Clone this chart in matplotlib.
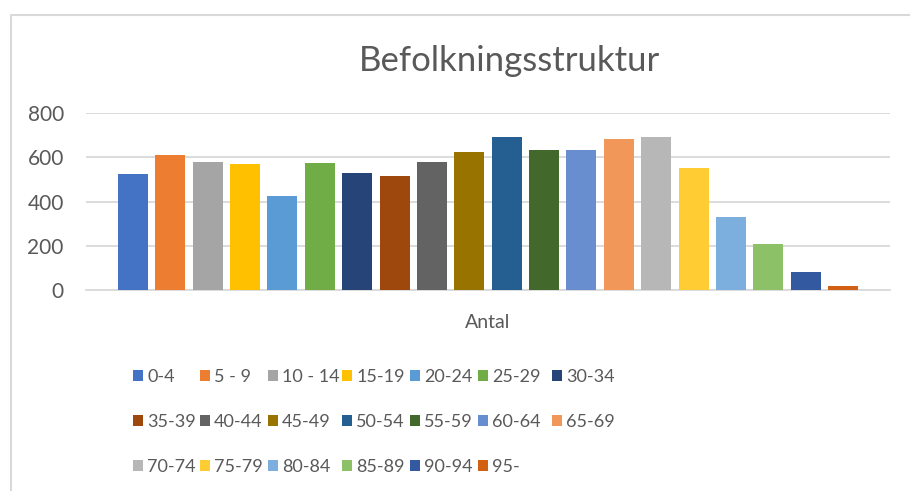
import matplotlib
matplotlib.use("Agg")
import matplotlib.pyplot as plt
from matplotlib.lines import Line2D
import numpy as np

# age groups and counts
age_groups = ["0-4", "5 - 9", "10 - 14", "15-19", "20-24", "25-29", "30-34",
              "35-39", "40-44", "45-49", "50-54", "55-59", "60-64", "65-69",
              "70-74", "75-79", "80-84", "85-89", "90-94", "95-"]
antal = [525, 611, 579, 570, 425, 575, 530, 516, 579, 625,
         693, 634, 634, 684, 693, 552, 330, 208, 81, 18]
category = "Antal"
y_ticks = [0, 200, 400, 600, 800]

colors = ["#4472C4", "#ED7D31", "#A5A5A5", "#FFC000", "#5B9BD5", "#70AD47",
          "#264478", "#9E480E", "#636363", "#997300", "#255E91", "#43682B",
          "#698ED0", "#F1975A", "#B7B7B7", "#FFCD33", "#7CAFDD", "#8CC168",
          "#335AA1", "#D26012"]

text_col = "#595959"
grid_col = "#D9D9D9"
plt.rcParams["font.family"] = ["Lato", "DejaVu Sans"]

W, H = 910, 491
fig = plt.figure(figsize=(W / 100, H / 100), dpi=100)
ax = fig.add_axes([86 / W, 1 - 290 / H, (890 - 86) / W, (290 - 113.3) / H])

n = len(antal)
pitch = 0.0465
width = 0.0373
handles = []
for i, (lab, val, c) in enumerate(zip(age_groups, antal, colors)):
    b = ax.bar((i - (n - 1) / 2) * pitch, val, width=width, color=c, label=lab, zorder=3)
    handles.append(b)

ax.set_xlim(-0.5, 0.5)
ax.set_ylim(0, 800)
ax.set_yticks(y_ticks)
ax.set_xticks([0])
ax.set_xticklabels([category])
ax.tick_params(axis="y", length=0, pad=16, labelsize=15, labelcolor=text_col)
ax.tick_params(axis="x", length=0, pad=17, labelsize=14, labelcolor=text_col)
ax.grid(axis="y", color=grid_col, linewidth=1.3, zorder=0)
for s in ["top", "right", "left"]:
    ax.spines[s].set_visible(False)
ax.spines["bottom"].set_color(grid_col)
ax.spines["bottom"].set_linewidth(1.3)

fig.text(510 / W, 1 - 61 / H, "Befolkningsstruktur", ha="center", va="center",
         fontsize=25, color=text_col)

# legend: 7 columns, filled row by row, one small legend per column
ncol = 7
col_x = [133, 200, 268, 342, 410, 478, 552]
for c in range(ncol):
    idx = [k for k in range(c, n, ncol)]
    fig.legend([handles[k] for k in idx], [age_groups[k] for k in idx],
               loc="upper left", bbox_to_anchor=(col_x[c] / W, 1 - 369 / H),
               frameon=False, fontsize=13, labelcolor=text_col,
               handlelength=0.58, handleheight=0.58, handletextpad=0.2,
               labelspacing=1.6, borderpad=0, borderaxespad=0)

# chart border (only top and left visible in the crop)
fig.add_artist(Line2D([10.5 / W, 10.5 / W, 1], [0, 1 - 15 / H, 1 - 15 / H],
                      color=grid_col, linewidth=1.5, transform=fig.transFigure))

fig.savefig("out.png", dpi=100)
